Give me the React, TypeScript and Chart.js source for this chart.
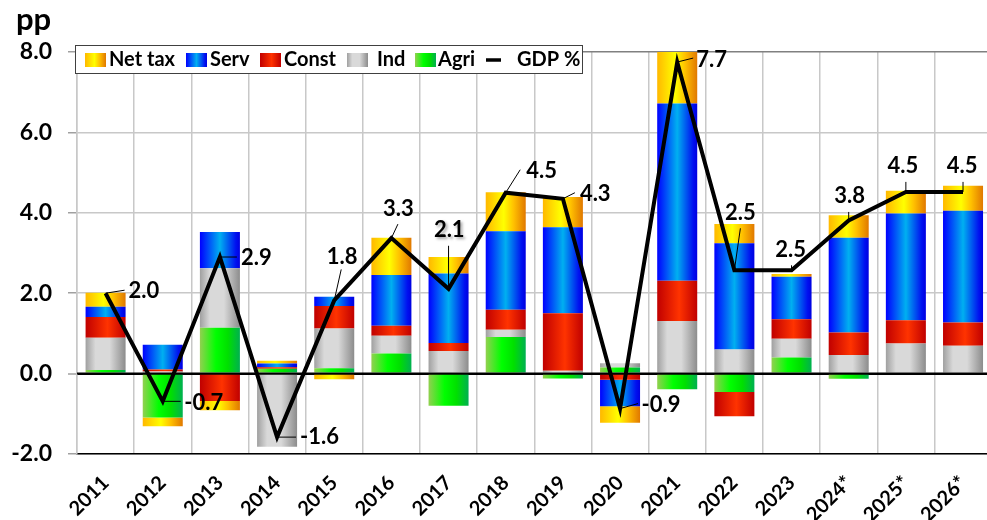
import React, { useEffect, useRef } from 'react';
import { Chart, registerables } from 'chart.js';
Chart.register(...registerables);

// ---- data ----
const categories = ['2011', '2012', '2013', '2014', '2015', '2016', '2017', '2018', '2019', '2020', '2021', '2022', '2023', '2024*', '2025*', '2026*'];
const agri = [0.09, -1.09, 1.14, 0.12, 0.13, 0.5, -0.8, 0.91, -0.12, 0.15, -0.39, -0.46, 0.4, -0.13, 0.03, 0.03];
const ind = [0.8, 0.05, 1.48, -1.82, 0.99, 0.44, 0.56, 0.18, 0.07, 0.11, 1.31, 0.6, 0.47, 0.46, 0.72, 0.66];
const constr = [0.52, 0.05, -0.68, 0.04, 0.56, 0.25, 0.2, 0.5, 1.43, -0.15, 1.0, -0.6, 0.48, 0.56, 0.58, 0.58];
const serv = [0.25, 0.62, 0.9, 0.09, 0.23, 1.26, 1.73, 1.95, 2.14, -0.66, 4.41, 2.64, 1.06, 2.36, 2.65, 2.78];
const netTax = [0.35, -0.22, -0.23, 0.07, -0.14, 0.93, 0.41, 0.97, 0.75, -0.41, 1.32, 0.48, 0.07, 0.56, 0.57, 0.62];
const gdp = [2.0, -0.69, 2.9, -1.58, 1.82, 3.37, 2.11, 4.5, 4.35, -0.87, 7.75, 2.57, 2.57, 3.81, 4.52, 4.52];
const gdpLabels = ['2.0', '-0.7', '2.9', '-1.6', '1.8', '3.3', '2.1', '4.5', '4.3', '-0.9', '7.7', '2.5', '2.5', '3.8', '4.5', '4.5'];
const yTicks = [-2, 0, 2, 4, 6, 8];

// ---- layout / style ----
type LabelPos = { dx: number; dy: number; align: 'left' | 'center'; lx: number; ly: number; shadow?: boolean };
const labelLayout: LabelPos[] = [
  { dx: 23, dy: -2, align: 'left', lx: 19, ly: -3 },
  { dx: 21.5, dy: 1.5, align: 'left', lx: 18, ly: 0 },
  { dx: 21, dy: 1, align: 'left', lx: 17, ly: 0 },
  { dx: 23, dy: 0, align: 'left', lx: 19, ly: 0 },
  { dx: 8, dy: -44, align: 'center', lx: 7, ly: -31 },
  { dx: 7, dy: -29, align: 'center', lx: 6.5, ly: -14 },
  { dx: 0.7, dy: -59, align: 'center', lx: 0, ly: -43, shadow: true },
  { dx: 20.5, dy: -22, align: 'left', lx: 14.5, ly: -23 },
  { dx: 17, dy: -5, align: 'left', lx: 12, ly: -6 },
  { dx: 21.5, dy: -4, align: 'left', lx: 18, ly: -5 },
  { dx: 19, dy: -2, align: 'left', lx: 16, ly: -4 },
  { dx: 6, dy: -57, align: 'center', lx: 6, ly: -42 },
  { dx: -1, dy: -20, align: 'center', lx: 0, ly: -5 },
  { dx: 1, dy: -25, align: 'center', lx: 0, ly: -8.5 },
  { dx: -3, dy: -26, align: 'center', lx: 0, ly: -10 },
  { dx: -1, dy: -26, align: 'center', lx: 0, ly: -10 },
];

type Stops = [number, string][];
const netTaxStops: Stops = [[0, '#FFB800'], [0.45, '#FFFF00'], [0.7, '#FFC000'], [1, '#E07800']];
const servStops: Stops = [[0, '#0000FF'], [0.5, '#00B0F0'], [0.9, '#0010F0'], [1, '#0000E0']];
const constStops: Stops = [[0, '#C00000'], [0.55, '#FF3300'], [1, '#C00000']];
const indStops: Stops = [[0, '#A0A0A0'], [0.25, '#D9D9D9'], [0.6, '#D9D9D9'], [1, '#8C8C8C']];
const agriStops: Stops = [[0, '#92D050'], [0.4, '#00FF00'], [0.7, '#00E000'], [1, '#00B050']];

const BAR_PCT = 0.7;
const FONT = 'Lato, "Open Sans", sans-serif';

function gradFill(stops: Stops) {
  return (c: any) => {
    const chart = c.chart;
    const xs = chart.scales && chart.scales.x;
    if (!xs || c.dataIndex === undefined || !chart.ctx) return stops[1][1];
    const cx = xs.getPixelForValue(c.dataIndex);
    const w = (xs.width / categories.length) * BAR_PCT;
    if (!isFinite(cx) || !isFinite(w) || w <= 0) return stops[1][1];
    const g = chart.ctx.createLinearGradient(cx - w / 2, 0, cx + w / 2, 0);
    stops.forEach(([o, col]) => g.addColorStop(o, col));
    return g;
  };
}

const legendItems: { label: string; stops?: Stops; x: number; tx: number }[] = [
  { label: 'Net tax', stops: netTaxStops, x: 85, tx: 109 },
  { label: 'Serv', stops: servStops, x: 186, tx: 210 },
  { label: 'Const', stops: constStops, x: 260, tx: 284 },
  { label: 'Ind', stops: indStops, x: 347, tx: 377 },
  { label: 'Agri', stops: agriStops, x: 415, tx: 438 },
  { label: 'GDP %', x: 486, tx: 517 },
];

const decorPlugin = {
  id: 'decor',
  beforeDatasetDraw(chart: any, args: any) {
    if (args.index !== 5) return;
    const { ctx, chartArea, scales } = chart;
    const y0 = scales.y.getPixelForValue(0);
    ctx.save();
    ctx.strokeStyle = '#000';
    ctx.lineWidth = 2;
    ctx.beginPath();
    ctx.moveTo(chartArea.left, y0);
    ctx.lineTo(chartArea.right, y0);
    ctx.stroke();
    ctx.restore();
  },
  afterDatasetsDraw(chart: any) {
    const { ctx } = chart;
    const meta = chart.getDatasetMeta(5);
    ctx.save();
    meta.data.forEach((pt: any, i: number) => {
      const L = labelLayout[i];
      ctx.strokeStyle = '#000';
      ctx.lineWidth = 1;
      ctx.beginPath();
      ctx.moveTo(pt.x, pt.y);
      ctx.lineTo(pt.x + L.lx, pt.y + L.ly);
      ctx.stroke();
      ctx.save();
      if (L.shadow) {
        ctx.shadowColor = 'rgba(0,0,0,0.35)';
        ctx.shadowBlur = 3;
        ctx.shadowOffsetX = 2;
        ctx.shadowOffsetY = 2;
      }
      ctx.font = `bold 22px ${FONT}`;
      ctx.fillStyle = '#000';
      ctx.textAlign = L.align;
      ctx.textBaseline = 'middle';
      ctx.fillText(gdpLabels[i], pt.x + L.dx, pt.y + L.dy);
      ctx.restore();
    });
    ctx.restore();
  },
  afterDraw(chart: any) {
    const { ctx } = chart;
    ctx.save();
    // unit label
    ctx.font = `bold 31px ${FONT}`;
    ctx.fillStyle = '#000';
    ctx.textAlign = 'left';
    ctx.textBaseline = 'alphabetic';
    ctx.fillText('pp', 16, 30);
    // legend
    ctx.fillStyle = '#fff';
    ctx.fillRect(75, 45, 507, 28);
    ctx.strokeStyle = '#404040';
    ctx.lineWidth = 1;
    ctx.strokeRect(75.5, 45.5, 507, 28);
    ctx.font = `bold 20px ${FONT}`;
    ctx.textBaseline = 'middle';
    legendItems.forEach((it) => {
      if (it.stops) {
        const g = ctx.createLinearGradient(it.x, 0, it.x + 21, 0);
        it.stops.forEach(([o, col]) => g.addColorStop(o, col));
        ctx.fillStyle = g;
        ctx.fillRect(it.x, 53, 21, 14);
      } else {
        ctx.strokeStyle = '#000';
        ctx.lineWidth = 3.5;
        ctx.beginPath();
        ctx.moveTo(it.x, 60);
        ctx.lineTo(it.x + 15, 60);
        ctx.stroke();
      }
      ctx.fillStyle = '#000';
      ctx.fillText(it.label, it.tx, 60);
    });
    ctx.restore();
  },
};

export default function App() {
  const ref = useRef<HTMLCanvasElement>(null);
  useEffect(() => {
    if (!ref.current) return;
    const barCommon = { stack: 'bars', order: 1, barPercentage: BAR_PCT, categoryPercentage: 1, borderWidth: 0 };
    const chart = new Chart(ref.current, {
      type: 'bar',
      data: {
        labels: categories,
        datasets: [
          { label: 'Agri', data: agri, backgroundColor: gradFill(agriStops), ...barCommon } as any,
          { label: 'Ind', data: ind, backgroundColor: gradFill(indStops), ...barCommon } as any,
          { label: 'Const', data: constr, backgroundColor: gradFill(constStops), ...barCommon } as any,
          { label: 'Serv', data: serv, backgroundColor: gradFill(servStops), ...barCommon } as any,
          { label: 'Net tax', data: netTax, backgroundColor: gradFill(netTaxStops), ...barCommon } as any,
          {
            type: 'line', label: 'GDP %', data: gdp, stack: 'gdp', order: 0,
            borderColor: '#000', borderWidth: 4, pointRadius: 0, tension: 0,
            borderJoinStyle: 'miter', fill: false,
          } as any,
        ],
      },
      options: {
        responsive: false,
        animation: false,
        devicePixelRatio: 1,
        layout: { padding: { top: 52, left: 0, right: 0, bottom: 0 } },
        plugins: { legend: { display: false }, tooltip: { enabled: false }, title: { display: false } },
        scales: {
          x: {
            stacked: true,
            grid: { color: '#C8C8C8', lineWidth: 1.5, drawTicks: false, offset: true },
            border: { color: '#000', width: 1.5 },
            ticks: {
              autoSkip: false, maxRotation: 45, minRotation: 45, padding: 17,
              color: '#000', font: { family: FONT, size: 20, weight: 'bold' },
            },
            afterFit: (s: any) => { s.height = 66; },
          },
          y: {
            stacked: true,
            min: -2, max: 8,
            afterBuildTicks: (s: any) => { s.ticks = yTicks.map((v) => ({ value: v })); },
            grid: {
              color: (c: any) => (c.tick && c.tick.value === 0 ? '#000' : c.tick && c.tick.value === 8 ? '#808080' : '#C8C8C8'),
              lineWidth: (c: any) => (c.tick && c.tick.value === 0 ? 2 : 1.5),
              tickLength: 9, tickColor: '#A0A0A0', tickWidth: 1.5,
            },
            border: { color: '#C8C8C8', width: 1.5 },
            ticks: {
              padding: 16, color: '#000',
              font: { family: FONT, size: 23, weight: 'bold' },
              callback: (v: any) => Number(v).toFixed(1),
            },
            afterFit: (s: any) => { s.width = 77; },
          },
        },
      },
      plugins: [decorPlugin],
    } as any);
    return () => chart.destroy();
  }, []);
  return (
    <div style={{ position: 'fixed', left: 0, top: 0, width: 987, height: 520, overflow: 'hidden', background: '#fff' }}>
      <canvas ref={ref} width={997} height={520} style={{ display: 'block', width: 997, height: 520 }} />
    </div>
  );
}
